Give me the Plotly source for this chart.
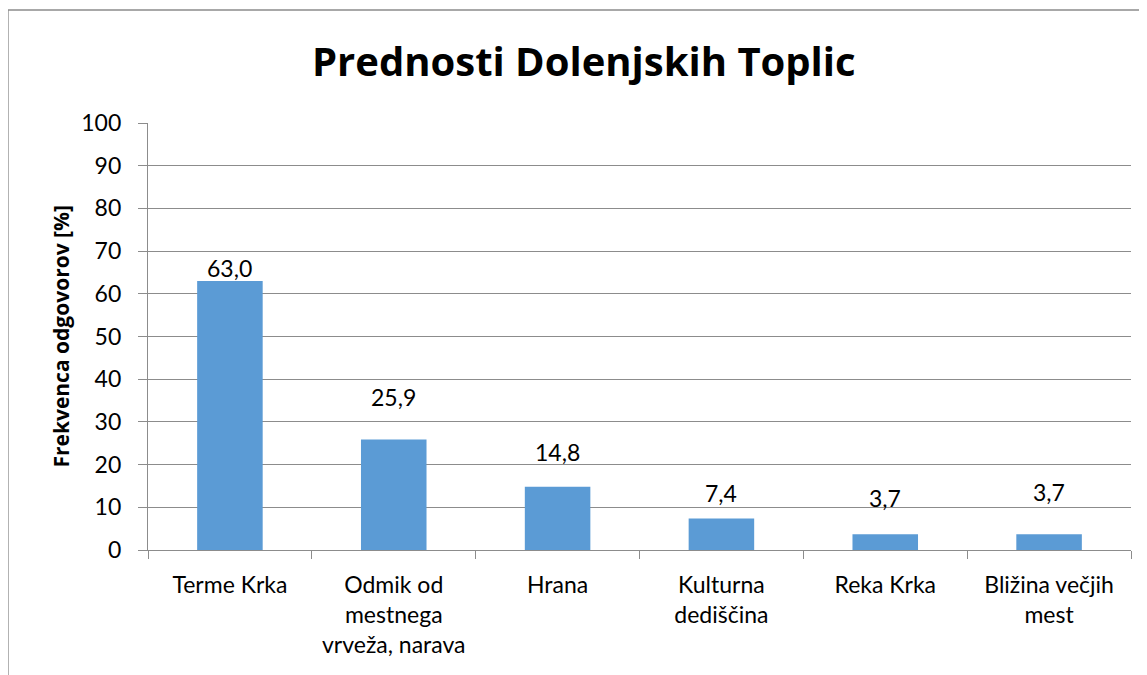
import plotly.graph_objects as go

categories = ["Terme Krka", "Odmik od<br>mestnega<br>vrveža, narava", "Hrana",
              "Kulturna<br>dediščina", "Reka Krka", "Bližina večjih<br>mest"]
values = [63.0, 25.9, 14.8, 7.4, 3.7, 3.7]
label_shift = [13, 42, 35, 25, 36, 42]  # px above bar top (styling)
y_ticks = list(range(0, 101, 10))

FONT = "Lato"
GRID = "#8c8c8c"

fig = go.Figure(go.Bar(x=categories, y=values, marker_color="#5B9BD5",
                       marker_line_width=0, width=0.4))

for c, v, s in zip(categories, values, label_shift):
    fig.add_annotation(x=c, y=v, xref="x", yref="y", text=f"{v:.1f}".replace(".", ","),
                       showarrow=False, yshift=s, yanchor="middle",
                       font=dict(family=FONT, size=23, color="#000"))

fig.add_annotation(x=-0.0895, y=0.5, xref="paper", yref="paper", text="<b>Frekvenca odgovorov [%]</b>",
                   textangle=-90, showarrow=False, xanchor="center", yanchor="middle",
                   font=dict(family="Open Sans", size=21, color="#000"))

fig.add_shape(type="rect", xref="paper", yref="paper", x0=-0.1424, y0=-0.6, x1=1.2, y1=1.2646,
              line=dict(color="#8c8c8c", width=1.3), fillcolor="rgba(0,0,0,0)", layer="below")

fig.update_layout(
    width=1147, height=675,
    margin=dict(l=140, r=24, t=115, b=133),
    paper_bgcolor="white", plot_bgcolor="white",
    showlegend=False,
    title=dict(text="<b>Prednosti Dolenjskih Toplic</b>", x=0.502, xref="container", xanchor="center",
               y=0.92, yref="container", yanchor="middle",
               font=dict(family="Open Sans", size=40, color="#000")),
    xaxis=dict(showline=True, linecolor=GRID, linewidth=1.3, ticks="outside", tickson="boundaries",
               ticklen=8, tickcolor=GRID, tickwidth=1.3, showgrid=False,
               tickfont=dict(family=FONT, size=23, color="#000"), ticklabelstandoff=14),
    yaxis=dict(range=[0, 100], tickvals=y_ticks, showline=True, linecolor=GRID, linewidth=1.3,
               ticks="outside", ticklen=9, tickcolor=GRID, tickwidth=1.3,
               showgrid=True, gridcolor=GRID, gridwidth=1.3, zeroline=False,
               tickfont=dict(family=FONT, size=23, color="#000"), ticklabelstandoff=12),
)

fig.write_html("out.html")
